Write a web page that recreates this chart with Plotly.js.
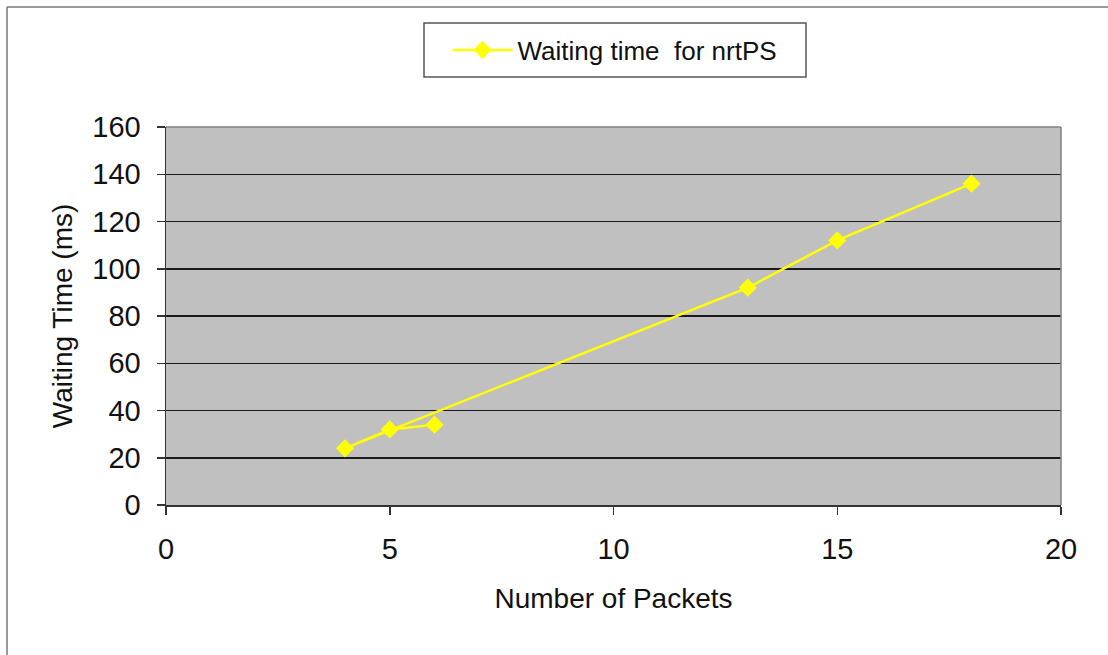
<!DOCTYPE html>
<html>
<head>
<meta charset="utf-8">
<script src="https://cdn.plot.ly/plotly-3.0.1.min.js"></script>
<style>
  html, body { margin: 0; padding: 0; background: #ffffff; }
  #chart { width: 1108px; height: 655px; }
</style>
</head>
<body>
<div id="chart"></div>
<script>
// Waiting time measured per number of packets (nrtPS class)
const packets = [6, 5, 4, 13, 15, 18];
const waitingMs = [34, 32, 24, 92, 112, 136];
const seriesName = 'Waiting time  for nrtPS';
const xTicks = [0, 5, 10, 15, 20];
const yTicks = [0, 20, 40, 60, 80, 100, 120, 140, 160];

const W = 1108, H = 655;
const L = 166, R = 47, T = 127, B = 150;
const pw = W - L - R, ph = H - T - B;
const px = v => (v - L) / pw;
const py = v => (H - B - v) / ph;

const family = 'Liberation Sans, Arial, sans-serif';
const txt = size => ({ family: family, size: size, color: '#111111' });

const trace = {
  type: 'scatter',
  mode: 'lines+markers',
  x: packets,
  y: waitingMs,
  name: seriesName,
  line: { color: '#ffff00', width: 2.5 },
  marker: { symbol: 'diamond', size: 14, color: '#ffff00' },
  showlegend: true
};

const layout = {
  width: W, height: H,
  margin: { l: L, r: R, t: T, b: B, pad: 0 },
  paper_bgcolor: '#ffffff',
  plot_bgcolor: '#c0c0c0',
  font: txt(26),
  showlegend: true,
  legend: {
    x: px(615), y: py(50), xanchor: 'center', yanchor: 'middle',
    bgcolor: 'rgba(0,0,0,0)', borderwidth: 0,
    font: txt(26),
    itemwidth: 60
  },
  xaxis: {
    range: [0, 20],
    tickvals: xTicks, ticktext: xTicks.map(String),
    ticks: 'outside', ticklen: 8, tickcolor: '#333333', tickwidth: 1.5,
    ticklabelstandoff: 10,
    showline: true, linecolor: '#333333', linewidth: 1.5,
    showgrid: false, zeroline: false,
    tickfont: txt(29),
    title: { text: 'Number of Packets', font: txt(28), standoff: 24 },
    fixedrange: true
  },
  yaxis: {
    range: [0, 160],
    tickvals: yTicks, ticktext: yTicks.map(String),
    ticks: 'outside', ticklen: 8, tickcolor: '#333333', tickwidth: 1.5,
    ticklabelstandoff: 10,
    showline: true, linecolor: '#333333', linewidth: 1.5,
    showgrid: true, gridcolor: '#1a1a1a', gridwidth: 1.5,
    zeroline: false,
    tickfont: txt(29),
    title: { text: 'Waiting Time (ms)', font: txt(28), standoff: 11 },
    fixedrange: true
  },
  shapes: [
    // legend box
    { type: 'rect', xref: 'paper', yref: 'paper', layer: 'below',
      x0: px(424), x1: px(806), y0: py(77), y1: py(23),
      fillcolor: '#ffffff', line: { color: '#555555', width: 1.5 } },
    // plot area frame (top and right edges)
    { type: 'line', xref: 'paper', yref: 'paper', x0: 0, x1: 1, y0: 1, y1: 1,
      line: { color: '#808080', width: 1.5 } },
    { type: 'line', xref: 'paper', yref: 'paper', x0: 1, x1: 1, y0: 0, y1: 1,
      line: { color: '#808080', width: 1.5 } },
    // outer chart border
    { type: 'line', xref: 'paper', yref: 'paper', x0: px(7), x1: px(7), y0: py(H + 5), y1: py(7),
      line: { color: '#777777', width: 1.5 } },
    { type: 'line', xref: 'paper', yref: 'paper', x0: px(7), x1: px(W + 5), y0: py(7), y1: py(7),
      line: { color: '#777777', width: 1.5 } }
  ]
};

Plotly.newPlot('chart', [trace], layout, { displayModeBar: false, staticPlot: true });
</script>
</body>
</html>
